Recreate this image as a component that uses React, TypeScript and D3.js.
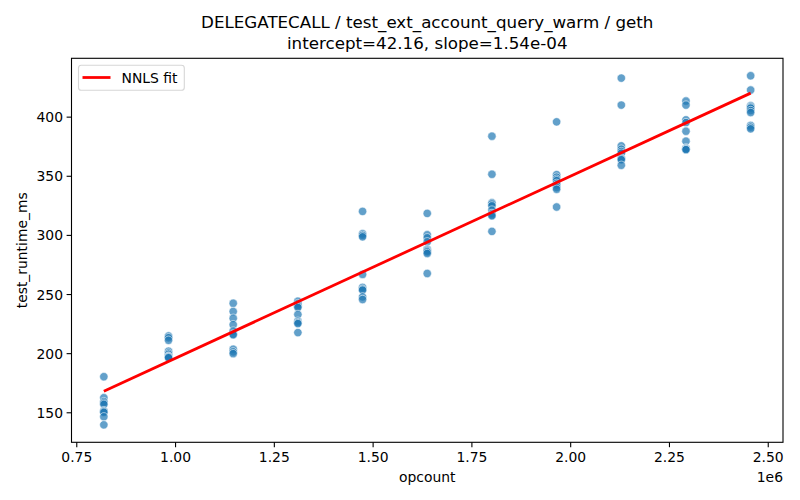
import React from 'react';
import * as d3 from 'd3';

// opcount per benchmark run group
const opcounts = [818500, 982200, 1145900, 1309600, 1473300, 1637000, 1800700, 1964400, 2128100, 2291800, 2455500];

// measured runtimes (ms) for each opcount group
const runtimes = [
  [180.5, 162.7, 159.5, 158.2, 157.1, 151.8, 151.0, 150.4, 146.6, 139.8],
  [214.9, 213.5, 211.3, 202.0, 200.5, 199.4, 198.0, 197.5, 197.0, 196.6],
  [242.6, 235.6, 229.9, 224.5, 219.1, 216.4, 216.0, 203.7, 201.5, 200.0],
  [244.3, 242.4, 241.0, 240.1, 239.0, 233.1, 227.4, 226.2, 225.4, 217.8],
  [320.3, 301.4, 300.0, 298.8, 267.0, 256.0, 254.5, 253.7, 248.0, 245.8],
  [318.6, 300.5, 298.0, 294.6, 288.3, 287.5, 286.8, 286.0, 284.7, 267.8],
  [383.9, 351.7, 327.6, 326.5, 325.0, 321.4, 318.5, 317.2, 316.5, 303.4],
  [396.0, 351.4, 349.2, 347.5, 346.3, 344.0, 342.6, 340.5, 339.0, 324.0],
  [433.0, 410.2, 375.7, 372.9, 371.0, 369.5, 365.5, 364.7, 364.0, 359.3],
  [413.6, 410.2, 397.7, 395.4, 388.1, 379.7, 374.0, 373.2, 372.9, 372.5],
  [435.0, 422.9, 409.6, 408.5, 407.6, 405.6, 403.9, 392.9, 391.5, 390.1],
];

const intercept = 42.16;
const slope = 1.54e-4;

const xTicks = [750000, 1000000, 1250000, 1500000, 1750000, 2000000, 2250000, 2500000];
const yTicks = [150, 200, 250, 300, 350, 400];

const W = 800;
const H = 500;
const margin = { top: 58.3, right: 17, bottom: 57.7, left: 71.5 };
const FONT = 'DejaVu Sans, sans-serif';

// matplotlib-style 5% padding around the data range
const pad = (ext: [number, number]): [number, number] => {
  const r = ext[1] - ext[0];
  return [ext[0] - r * 0.05, ext[1] + r * 0.05];
};

export default function App() {
  const points = opcounts.flatMap((x, i) => runtimes[i].map(y => ({ x, y })));

  const x = d3.scaleLinear()
    .domain(pad(d3.extent(opcounts) as [number, number]))
    .range([margin.left, W - margin.right]);
  const y = d3.scaleLinear()
    .domain(pad(d3.extent(points, d => d.y) as [number, number]))
    .range([H - margin.bottom, margin.top]);

  const fitX = d3.extent(opcounts) as [number, number];
  const fitLine = d3.line<number>()
    .x(d => x(d))
    .y(d => y(intercept + slope * d))(fitX);

  const left = margin.left;
  const right = W - margin.right;
  const top = margin.top;
  const bottom = H - margin.bottom;

  return (
    <svg width={W} height={H} style={{ position: 'absolute', left: 0, top: 0, background: '#fff' }} fontFamily={FONT}>
      <rect width={W} height={H} fill="#fff" />

      {/* title */}
      <text x={(left + right) / 2} y={28} textAnchor="middle" fontSize={16.7}>
        DELEGATECALL / test_ext_account_query_warm / geth
      </text>
      <text x={(left + right) / 2} y={49} textAnchor="middle" fontSize={16.7}>
        intercept=42.16, slope=1.54e-04
      </text>

      {/* points */}
      {points.map((p, i) => (
        <circle key={i} cx={x(p.x)} cy={y(p.y)} r={4.2}
          fill="#1f77b4" fillOpacity={0.7} stroke="#fff" strokeOpacity={0.7} strokeWidth={0.8} />
      ))}

      {/* NNLS fit */}
      <path d={fitLine || ''} fill="none" stroke="red" strokeWidth={2.78} strokeLinecap="butt" />

      {/* spines */}
      <rect x={left} y={top} width={right - left} height={bottom - top} fill="none" stroke="#000" strokeWidth={1.1} />

      {/* x axis */}
      {xTicks.map(t => (
        <g key={t} transform={`translate(${x(t)},${bottom})`}>
          <line y2={4.9} stroke="#000" strokeWidth={1.1} />
          <text y={19.5} textAnchor="middle" fontSize={13.9}>{(t / 1e6).toFixed(2)}</text>
        </g>
      ))}
      <text x={(left + right) / 2} y={482} textAnchor="middle" fontSize={13.9}>opcount</text>
      <text x={right} y={482} textAnchor="end" fontSize={13.9}>1e6</text>

      {/* y axis */}
      {yTicks.map(t => (
        <g key={t} transform={`translate(${left},${y(t)})`}>
          <line x2={-4.9} stroke="#000" strokeWidth={1.1} />
          <text x={-8.5} dy="0.36em" textAnchor="end" fontSize={13.9}>{t}</text>
        </g>
      ))}
      <text transform={`translate(27,${(top + bottom) / 2}) rotate(-90)`} textAnchor="middle" fontSize={13.9}>
        test_runtime_ms
      </text>

      {/* legend */}
      <g>
        <rect x={78.5} y={65.2} width={105.8} height={25} rx={2.8}
          fill="#fff" fillOpacity={0.8} stroke="#d6d6d6" strokeWidth={1.1} />
        <line x1={82.5} x2={110.5} y1={77.5} y2={77.5} stroke="red" strokeWidth={2.78} />
        <text x={121.5} y={82.5} fontSize={13.9}>NNLS fit</text>
      </g>
    </svg>
  );
}
